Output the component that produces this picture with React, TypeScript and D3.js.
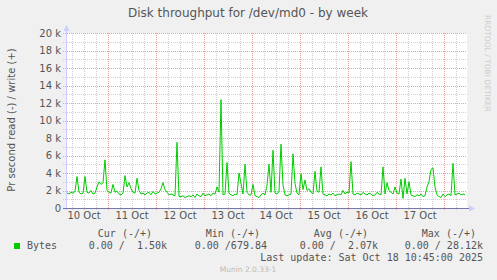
import React from "react";
import * as d3 from "d3";

const W = 497;
const H = 280;

// hourly write throughput (k bytes/s) starting 10 Oct 03:30
const writeK: number[] = [
  1.7, 1.6, 1.8, 1.7, 1.9, 3.6, 1.8, 1.6, 1.7, 3.6,
  1.8, 1.7, 2.0, 1.6, 1.7, 2.4, 3.0, 2.7, 2.9, 5.5,
  2.0, 1.8, 1.7, 2.7, 1.8, 1.9, 1.6, 1.5, 1.7, 3.7,
  2.4, 2.9, 2.2, 1.8, 1.7, 3.4, 2.0, 1.6, 1.7, 1.5,
  1.7, 1.8, 1.5, 1.9, 1.6, 1.7, 1.8, 2.2, 2.9, 2.1,
  1.8, 1.5, 1.6, 1.5, 1.4, 7.5, 1.3, 1.3, 1.4, 1.2,
  1.3, 1.4, 1.3, 1.5, 1.2, 1.6, 1.4, 1.3, 1.7, 1.4,
  1.5, 1.6, 1.4, 1.7, 1.6, 2.4, 1.8, 12.4, 1.5, 1.6,
  5.2, 1.7, 1.5, 1.4, 1.6, 1.5, 4.0, 2.8, 1.6, 5.0,
  1.8, 1.5, 1.5, 2.7, 1.4, 1.3, 1.2, 1.5, 1.7, 1.5,
  2.6, 5.0, 1.8, 6.6, 1.7, 1.6, 1.9, 7.3, 2.6, 1.5,
  1.4, 1.5, 1.6, 6.2, 2.8, 1.7, 1.5, 3.9, 2.1, 3.2,
  2.0, 2.2, 1.8, 1.6, 4.2, 1.9, 1.8, 4.7, 1.6, 1.5,
  1.4, 1.6, 1.5, 1.7, 1.4, 1.5, 1.6, 1.5, 2.0, 1.6,
  1.8, 1.7, 5.3, 1.6, 1.5, 1.7, 1.6, 1.5, 1.8, 1.6,
  1.5, 1.7, 1.6, 1.4, 1.5, 1.8, 1.6, 1.5, 4.7, 1.6,
  2.9, 2.0, 1.8, 1.6, 2.4, 1.7, 1.6, 3.3, 1.1, 3.4,
  1.6, 3.0, 1.5, 1.4, 1.3, 1.5, 1.4, 1.6, 1.3, 1.4,
  2.4, 3.0, 4.4, 4.6, 2.4, 1.5, 1.3, 1.2, 1.6, 1.3,
  1.5, 1.6, 1.4, 5.1, 1.5, 1.6, 1.7, 1.5, 1.6, 1.5,
];

const yTicks = [0, 2000, 4000, 6000, 8000, 10000, 12000, 14000, 16000, 18000, 20000];
const dayLabels = ["10 Oct", "11 Oct", "12 Oct", "13 Oct", "14 Oct", "15 Oct", "16 Oct", "17 Oct"];

const legendHeaders = ["Cur (-/+)", "Min (-/+)", "Avg (-/+)", "Max (-/+)"];
const legendValues = ["0.00 /  1.50k", "0.00 /679.84", "0.00 /  2.07k", "0.00 / 28.12k"];
const seriesName = "Bytes";
const title = "Disk throughput for /dev/md0 - by week";
const yLabel = "Pr second read (-) / write (+)";
const lastUpdate = "Last update: Sat Oct 18 10:45:00 2025";
const footer = "Munin 2.0.33-1";
const sideText = "RRDTOOL / TOBI OETIKER";

export default function App() {
  const start = new Date(2025, 9, 10, 3, 30);
  const end = d3.timeHour.offset(start, 200);
  const x = d3.scaleTime().domain([start, end]).range([67, 467]);
  const y = d3.scaleLinear().domain([0, 20000]).range([208, 33]);

  const data = writeK.map((v, i) => ({ t: d3.timeHour.offset(start, i), v: v * 1000 }));
  const line = d3
    .line<{ t: Date; v: number }>()
    .x((d) => x(d.t))
    .y((d) => y(d.v));

  const minorY = d3.range(0, 20001, 1000).filter((v) => v % 2000 !== 0);
  const sixHours = d3.timeHour.every(6)!.range(start, end).filter((d) => d.getHours() !== 0);
  const days = d3.timeDay.range(d3.timeDay.ceil(start), end);
  const noons = dayLabels.map((_, i) => new Date(2025, 9, 10 + i, 12, 0));

  const fmtY = (v: number) => (v === 0 ? "0" : `${v / 1000} k`);
  const sans = "DejaVu Sans, sans-serif";
  const mono = "DejaVu Sans Mono, monospace";
  const headerRight = [152, 260, 368, 476];
  const valueRight = [167, 267, 378, 483];

  return (
    <svg
      width={W}
      height={H}
      style={{ position: "absolute", left: 0, top: 0, background: "#F0F0F0" }}
    >
      <rect x={0} y={0} width={W} height={H} fill="#F0F0F0" />
      <rect x={67} y={33} width={400} height={175} fill="#FFFFFF" />
      {/* minor horizontal grid */}
      {minorY.map((v) => (
        <line key={"mh" + v} x1={63} x2={467} y1={Math.round(y(v)) + 0.5} y2={Math.round(y(v)) + 0.5}
          stroke="#D0D0D0" strokeDasharray="1,1" />
      ))}
      {/* minor vertical grid */}
      {sixHours.map((d) => (
        <line key={"mv" + d.getTime()} x1={Math.round(x(d)) + 0.5} x2={Math.round(x(d)) + 0.5} y1={33} y2={211}
          stroke="#D0D0D0" strokeDasharray="1,1" />
      ))}
      {/* major horizontal grid */}
      {yTicks.filter((v) => v > 0).map((v) => (
        <line key={"Mh" + v} x1={63} x2={467} y1={Math.round(y(v)) + 0.5} y2={Math.round(y(v)) + 0.5}
          stroke="#F0A0A0" strokeDasharray="1,1" />
      ))}
      {/* major vertical grid */}
      {days.map((d) => (
        <line key={"Mv" + d.getTime()} x1={Math.round(x(d)) + 0.5} x2={Math.round(x(d)) + 0.5} y1={33} y2={211}
          stroke="#F0A0A0" strokeDasharray="1,1" />
      ))}
      {/* y axis */}
      <line x1={66.5} x2={66.5} y1={210} y2={30} stroke="#CCCCFF" />
      <path d="M63.5,31 L66.5,25 L69.5,31 Z" fill="#CCCCFF" />
      {/* x axis */}
      <line x1={63} x2={470} y1={208.5} y2={208.5} stroke="#7777AA" />
      <path d="M469,205.5 L475,208.5 L469,211.5 Z" fill="#CCCCFF" />
      {/* data line */}
      <path d={line(data) || ""} fill="none" stroke="#00CC00" strokeWidth={1} />

      {/* y tick labels */}
      {yTicks.map((v) => (
        <text key={"yl" + v} x={61} y={y(v) + 3.5} textAnchor="end" fontFamily={sans} fontSize={10} fill="#555555">
          {fmtY(v)}
        </text>
      ))}
      {/* x labels */}
      {noons.map((d, i) => (
        <text key={"xl" + i} x={x(d)} y={219} textAnchor="middle" fontFamily={sans} fontSize={10} fill="#555555">
          {dayLabels[i]}
        </text>
      ))}

      <text x={248} y={17} textAnchor="middle" fontFamily={sans} fontSize={12} fill="#555555">{title}</text>
      <text transform="translate(15,120) rotate(-90)" textAnchor="middle" fontFamily={sans} fontSize={10} fill="#555555">
        {yLabel}
      </text>
      <text transform="translate(485,15) rotate(90)" textAnchor="start" fontFamily={sans} fontSize={7.5} fill="#CCCCCC">
        {sideText}
      </text>

      {/* legend */}
      {legendHeaders.map((h, i) => (
        <text key={"lh" + i} x={headerRight[i]} y={237} textAnchor="end" fontFamily={mono} fontSize={10} fill="#555555"
          style={{ whiteSpace: "pre" }}>
          {h}
        </text>
      ))}
      <rect x={14} y={243} width={6} height={6} fill="#00CC00" />
      <text x={27} y={249} fontFamily={mono} fontSize={10} fill="#555555">{seriesName}</text>
      {legendValues.map((v, i) => (
        <text key={"lv" + i} x={valueRight[i]} y={249} textAnchor="end" fontFamily={mono} fontSize={10} fill="#555555"
          style={{ whiteSpace: "pre" }}>
          {v}
        </text>
      ))}
      <text x={483} y={261} textAnchor="end" fontFamily={mono} fontSize={10} fill="#555555" style={{ whiteSpace: "pre" }}>
        {lastUpdate}
      </text>
      <text x={248} y={272} textAnchor="middle" fontFamily={sans} fontSize={7.5} fill="#BBBBBB">{footer}</text>
    </svg>
  );
}
